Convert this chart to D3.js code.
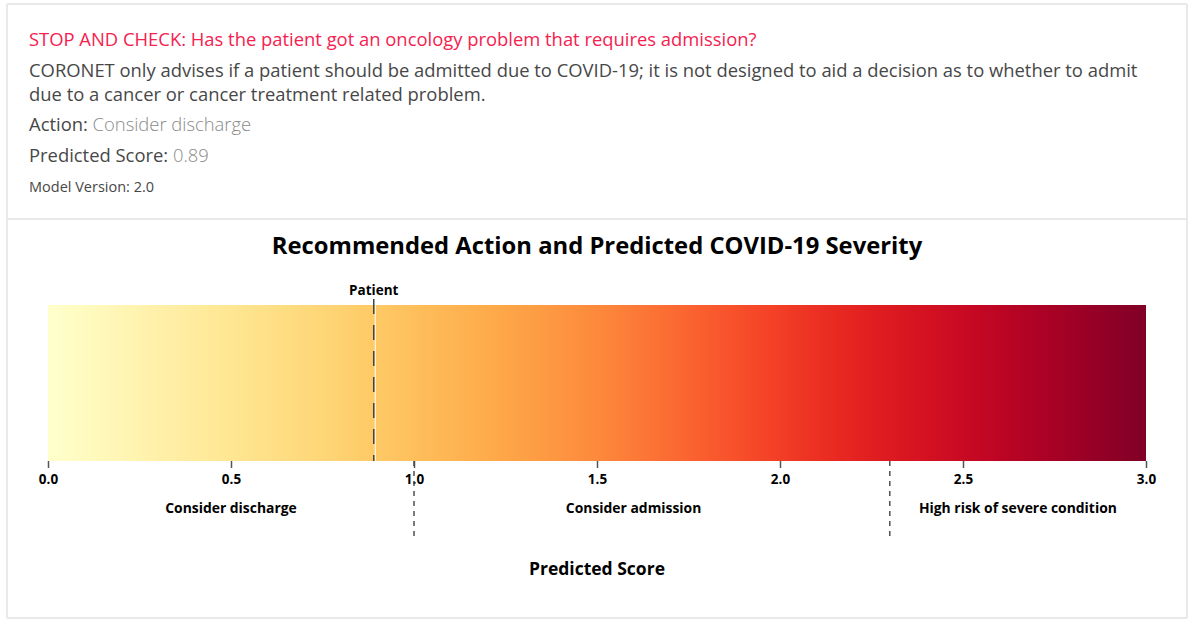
<!DOCTYPE html>
<html>
<head>
<meta charset="utf-8">
<script src="https://cdn.jsdelivr.net/npm/d3@7"></script>
<style>
  html, body { margin: 0; padding: 0; background: #fff; }
  svg { display: block; font-family: "Open Sans", "Noto Sans", sans-serif; }
</style>
</head>
<body>
<svg id="chart" width="1196" height="626"></svg>
<script>
// ---- data ----
const headerWarning = "STOP AND CHECK: Has the patient got an oncology problem that requires admission?";
const headerBody = [
  "CORONET only advises if a patient should be admitted due to COVID-19; it is not designed to aid a decision as to whether to admit",
  "due to a cancer or cancer treatment related problem."
];
const actionLabel = "Action:";
const actionValue = "Consider discharge";
const scoreLabel = "Predicted Score:";
const patientScore = 0.89;
const modelVersion = "Model Version: 2.0";

const chartTitle = "Recommended Action and Predicted COVID-19 Severity";
const axisTitle = "Predicted Score";
const scoreDomain = [0, 3];
const tickValues = [0, 0.5, 1.0, 1.5, 2.0, 2.5, 3.0];
const thresholds = [1.0, 2.3];
const zoneLabels = ["Consider discharge", "Consider admission", "High risk of severe condition"];
const zoneLabelPos = [0.5, 1.6, 2.65];
const patientLabel = "Patient";

// ---- drawing ----
const svg = d3.select("#chart");
const border = "#e9e9e9";

// card frame
[[7, 4, 1187, 4], [7, 219, 1187, 219], [7, 618, 1187, 618], [7, 4, 7, 618], [1187, 4, 1187, 618]]
  .forEach(([x1, y1, x2, y2]) => svg.append("line")
    .attr("x1", x1).attr("y1", y1).attr("x2", x2).attr("y2", y2)
    .attr("stroke", border).attr("stroke-width", 2));

// header
const hx = 29;
const hs = 18.4;
svg.append("text").attr("x", hx).attr("y", 46)
  .attr("font-size", hs).attr("fill", "#f5214f").text(headerWarning);
headerBody.forEach((t, i) => svg.append("text").attr("x", hx).attr("y", 77 + i * 24)
  .attr("font-size", hs).attr("fill", "#474747").text(t));

function labelValue(y, label, value, size) {
  const t = svg.append("text").attr("x", hx).attr("y", y).attr("font-size", size).attr("fill", "#474747");
  t.append("tspan").text(label);
  if (value !== null) t.append("tspan").attr("fill", "#8a8a8a").attr("font-weight", 300).text(" " + value);
}
labelValue(131, actionLabel, actionValue, hs);
labelValue(162, scoreLabel, d3.format(".2f")(patientScore), hs);
labelValue(192, modelVersion, null, 14.5);

// chart
const x = d3.scaleLinear().domain(scoreDomain).range([48, 1146]);
const barTop = 305, barBottom = 461;

const defs = svg.append("defs");
const grad = defs.append("linearGradient").attr("id", "sev")
  .attr("x1", "0%").attr("x2", "100%").attr("y1", "0%").attr("y2", "0%");
d3.range(0, 1.0001, 0.05).forEach(t => grad.append("stop")
  .attr("offset", (t * 100) + "%").attr("stop-color", d3.interpolateYlOrRd(t)));

svg.append("rect")
  .attr("x", x(scoreDomain[0])).attr("y", barTop)
  .attr("width", x(scoreDomain[1]) - x(scoreDomain[0])).attr("height", barBottom - barTop)
  .attr("fill", "url(#sev)");

svg.append("text").attr("x", (x(0) + x(3)) / 2).attr("y", 254)
  .attr("text-anchor", "middle").attr("font-size", 23.8).attr("font-weight", 700)
  .attr("fill", "#000").text(chartTitle);

// axis
const axis = svg.append("g").attr("transform", `translate(0,${barBottom})`)
  .call(d3.axisBottom(x).tickValues(tickValues).tickFormat(d3.format(".1f")).tickSize(7).tickPadding(6));
axis.select(".domain").remove();
axis.selectAll(".tick line").attr("stroke", "#555").attr("stroke-width", 1.5);
axis.selectAll(".tick text").attr("font-size", 13.5).attr("font-weight", 700)
  .attr("fill", "#000").attr("font-family", "'Open Sans', sans-serif");

// thresholds
svg.selectAll(".thr").data(thresholds).enter().append("line")
  .attr("x1", d => x(d)).attr("x2", d => x(d))
  .attr("y1", barBottom).attr("y2", 541)
  .attr("stroke", "#444").attr("stroke-width", 1.4).attr("stroke-dasharray", "5,5");

// zone labels
svg.selectAll(".zone").data(zoneLabels).enter().append("text")
  .attr("x", (d, i) => x(zoneLabelPos[i])).attr("y", 513)
  .attr("text-anchor", "middle").attr("font-size", 13.9).attr("font-weight", 700)
  .attr("fill", "#000").text(d => d);

// patient marker
const px = x(patientScore);
svg.append("line").attr("x1", px + 1.5).attr("x2", px + 1.5).attr("y1", barTop).attr("y2", barBottom)
  .attr("stroke", "#fff").attr("stroke-width", 1);
svg.append("line").attr("x1", px).attr("x2", px).attr("y1", 299).attr("y2", barBottom)
  .attr("stroke", "#444").attr("stroke-width", 1.5).attr("stroke-dasharray", "15,11");
svg.append("text").attr("x", px).attr("y", 295).attr("text-anchor", "middle")
  .attr("font-size", 13.5).attr("font-weight", 700).attr("fill", "#000").text(patientLabel);

svg.append("text").attr("x", (x(0) + x(3)) / 2).attr("y", 575).attr("text-anchor", "middle")
  .attr("font-size", 17.5).attr("font-weight", 700).attr("fill", "#000").text(axisTitle);
</script>
</body>
</html>
